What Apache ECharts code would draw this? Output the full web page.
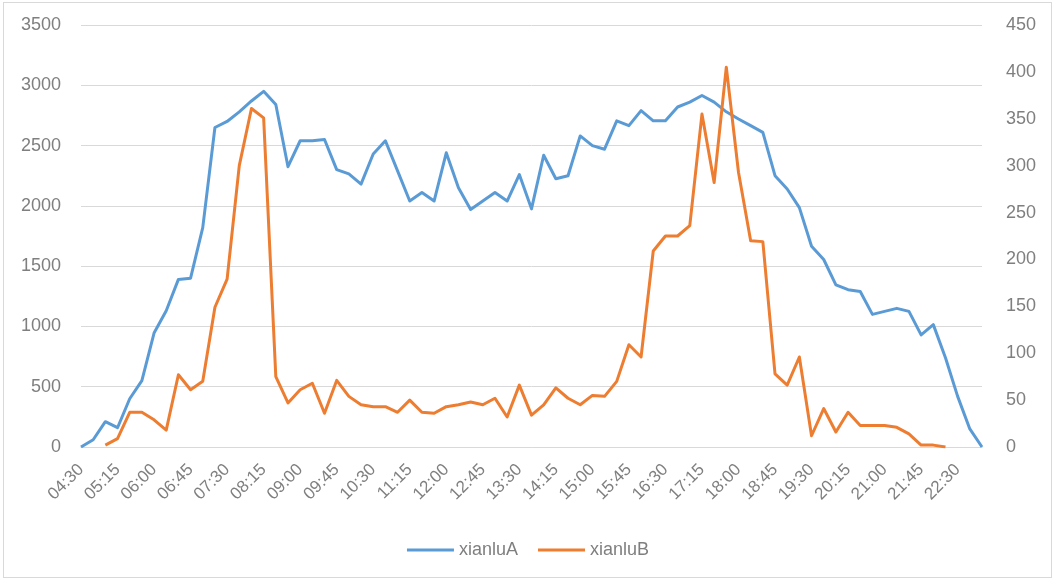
<!DOCTYPE html>
<html>
<head>
<meta charset="utf-8">
<style>
  html, body { margin: 0; padding: 0; background: #fff; }
  #main { width: 1056px; height: 583px; }
  #frame { position: absolute; left: 3px; top: 2px; width: 1047px; height: 574px;
           border: 1px solid #d9d9d9; pointer-events: none; }
</style>
<script src="https://cdn.jsdelivr.net/npm/echarts@6/dist/echarts.min.js"></script>
</head>
<body>
<div id="main"></div>
<div id="frame"></div>
<script>
// 15 分钟一个时段
var times = [
  '04:30','04:45','05:00','05:15','05:30','05:45','06:00','06:15','06:30','06:45',
  '07:00','07:15','07:30','07:45','08:00','08:15','08:30','08:45','09:00','09:15',
  '09:30','09:45','10:00','10:15','10:30','10:45','11:00','11:15','11:30','11:45',
  '12:00','12:15','12:30','12:45','13:00','13:15','13:30','13:45','14:00','14:15',
  '14:30','14:45','15:00','15:15','15:30','15:45','16:00','16:15','16:30','16:45',
  '17:00','17:15','17:30','17:45','18:00','18:15','18:30','18:45','19:00','19:15',
  '19:30','19:45','20:00','20:15','20:30','20:45','21:00','21:15','21:30','21:45',
  '22:00','22:15','22:30','22:45','23:00'
];

// 左轴
var xianluA = [
  0, 60, 210, 160, 400, 550, 945, 1130, 1390, 1400,
  1820, 2650, 2700, 2780, 2870, 2950, 2840, 2325, 2540, 2540,
  2550, 2300, 2265, 2180, 2430, 2540, 2290, 2040, 2110, 2040,
  2440, 2150, 1970, 2040, 2110, 2040, 2260, 1975, 2420, 2225,
  2250, 2580, 2500, 2470, 2705, 2665, 2790, 2705, 2705, 2820,
  2860, 2915, 2860, 2780, 2720, 2665, 2610, 2250, 2140, 1985,
  1665, 1555, 1345, 1305, 1290, 1100, 1125, 1150, 1125, 930,
  1015, 740, 420, 150, 0
];

// 右轴
var xianluB = [
  null, null, 2, 9, 37, 37, 29, 18, 77, 61,
  70, 149, 179, 300, 361, 351, 75, 47, 61, 68,
  36, 71, 54, 45, 43, 43, 37, 50, 37, 36,
  43, 45, 48, 45, 52, 32, 66, 34, 45, 63,
  52, 45, 55, 54, 70, 109, 96, 209, 225, 225,
  236, 355, 282, 405, 293, 220, 219, 78, 66, 96,
  12, 41, 16, 37, 23, 23, 23, 21, 14, 2,
  2, 0, null, null, null
];

var labelColor = '#7f7f7f';
var fontFamily = '"Liberation Sans", Arial, sans-serif';

var chart = echarts.init(document.getElementById('main'));

var option = {
  animation: false,
  textStyle: { fontFamily: fontFamily },
  legend: {
    data: ['xianluA', 'xianluB'],
    left: 'center',
    top: 536,
    icon: 'rect',
    itemWidth: 47,
    itemHeight: 3,
    itemGap: 20,
    textStyle: { color: labelColor, fontSize: 18, fontFamily: fontFamily }
  },
  grid: {
    left: 81,
    right: 74,
    top: 25,
    bottom: 136
  },
  xAxis: {
    type: 'category',
    boundaryGap: false,
    data: times,
    axisLine: { lineStyle: { color: '#d9d9d9', width: 1 } },
    axisTick: { show: false },
    axisLabel: {
      interval: 2,
      rotate: 45,
      margin: 20,
      color: labelColor,
      fontSize: 17,
      fontFamily: fontFamily
    },
    splitLine: { show: false }
  },
  yAxis: [
    {
      type: 'value',
      min: 0,
      max: 3500,
      interval: 500,
      axisLine: { show: false },
      axisTick: { show: false },
      axisLabel: {
        color: labelColor, fontSize: 18, margin: 20, fontFamily: fontFamily,
        formatter: function (v) { return String(v); }
      },
      splitLine: { lineStyle: { color: '#d9d9d9', width: 1 } }
    },
    {
      type: 'value',
      min: 0,
      max: 450,
      interval: 50,
      axisLine: { show: false },
      axisTick: { show: false },
      axisLabel: {
        color: labelColor, fontSize: 18, margin: 24, fontFamily: fontFamily,
        formatter: function (v) { return String(v); }
      },
      splitLine: { show: false }
    }
  ],
  series: [
    {
      name: 'xianluA',
      type: 'line',
      yAxisIndex: 0,
      data: xianluA,
      showSymbol: false,
      symbol: 'none',
      itemStyle: { color: '#5b9bd5' },
      lineStyle: { color: '#5b9bd5', width: 3, join: 'round' }
    },
    {
      name: 'xianluB',
      type: 'line',
      yAxisIndex: 1,
      data: xianluB,
      showSymbol: false,
      symbol: 'none',
      itemStyle: { color: '#ed7d31' },
      lineStyle: { color: '#ed7d31', width: 3, join: 'round' }
    }
  ]
};

chart.setOption(option);
</script>
</body>
</html>
